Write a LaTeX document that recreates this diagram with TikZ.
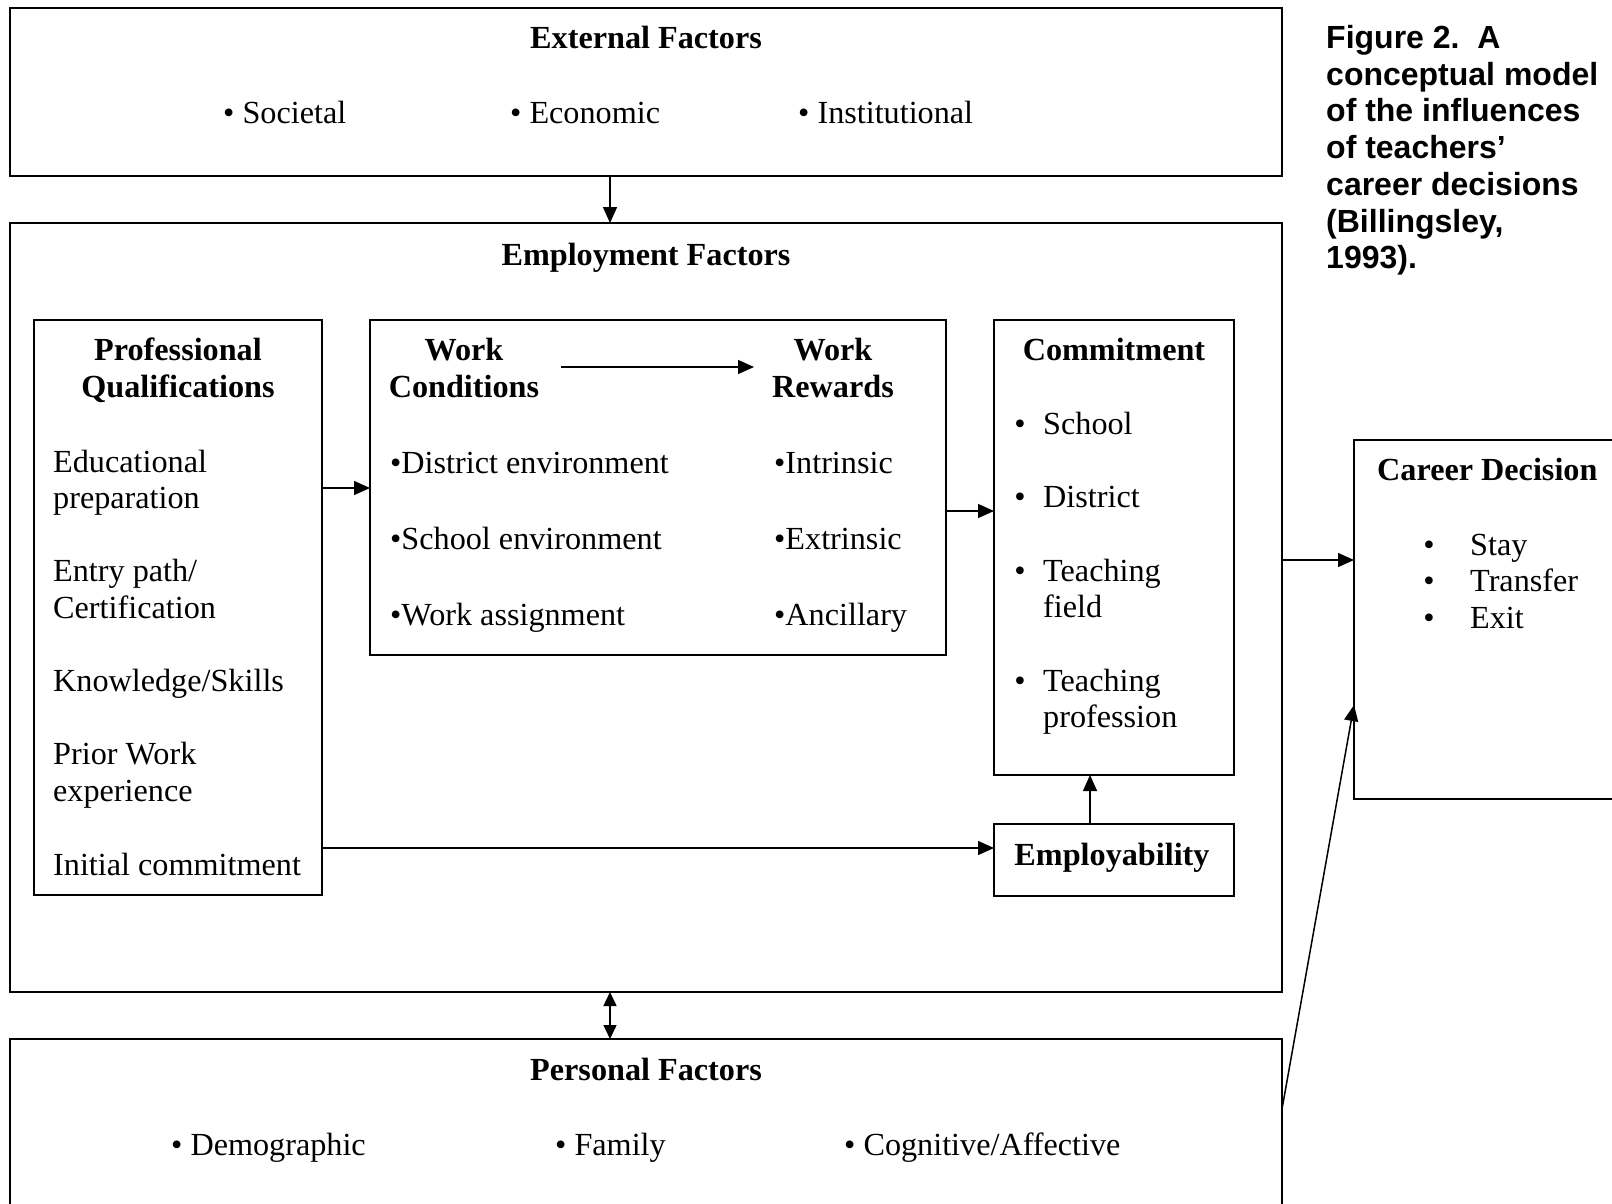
\documentclass[tikz,border=0pt]{standalone}
\usepackage{fontspec}
\setmainfont{Liberation Serif}
\newfontfamily\capfont{Liberation Sans}
\usetikzlibrary{arrows.meta,calc}
\begin{document}
\begin{tikzpicture}[x=1pt,y=-1pt,
  box/.style={draw, line width=2pt, inner sep=0pt, outer sep=0pt, anchor=north west},
  arr/.style={line width=1.5pt, -{Triangle[length=16pt,width=14pt]}},
  darr/.style={line width=1.5pt, {Triangle[length=14pt,width=13pt]}-{Triangle[length=14pt,width=13pt]}},
  tx/.style={inner sep=0pt, anchor=base west, font=\fontsize{32.2}{36.6}\selectfont},
  tc/.style={inner sep=0pt, anchor=base, font=\fontsize{32.2}{36.6}\selectfont},
  tb/.style={inner sep=0pt, anchor=base, font=\fontsize{32.2}{36.6}\selectfont\bfseries},
  tbw/.style={inner sep=0pt, anchor=base west, font=\fontsize{32.2}{36.6}\selectfont\bfseries},
  captxt/.style={inner sep=0pt, anchor=base west, font=\capfont\bfseries\fontsize{32}{36.7}\selectfont}
]
\useasboundingbox (0,0) rectangle (1612,1203);
\clip (0,0) rectangle (1612,1203);

% boxes
\node[box, minimum width=1272pt, minimum height=168pt] (ext) at (10,8) {};
\node[box, minimum width=1272pt, minimum height=769pt] (emp) at (10,223) {};
\node[box, minimum width=1272pt, minimum height=200pt] (pers) at (10,1039) {};
\node[box, minimum width=288pt, minimum height=575pt] (prof) at (34,320) {};
\node[box, minimum width=576pt, minimum height=335pt] (work) at (370,320) {};
\node[box, minimum width=240pt, minimum height=455pt] (comm) at (994,320) {};
\node[box, minimum width=240pt, minimum height=72pt] (empl) at (994,824) {};
\node[box, minimum width=280pt, minimum height=359pt] (career) at (1354,440) {};

% connectors
\coordinate (xa) at (610,0);
\coordinate (xb) at (1090,0);
\coordinate (ya) at (0,488);
\coordinate (yb) at (0,511);
\coordinate (yc) at (0,848);
\coordinate (yd) at (0,560);
\coordinate (wa) at (561,367);
\coordinate (wb) at (754,367);
\coordinate (pa) at ($(pers.north east)+(0,70)$);
\coordinate (cb) at ($(career.north west)+(0,265)$);
\draw[arr] (ext.south -| xa) -- (emp.north -| xa);
\draw[darr] (emp.south -| xa) -- (pers.north -| xa);
\draw[arr] (prof.east |- ya) -- (work.west |- ya);
\draw[arr] (work.east |- yb) -- (comm.west |- yb);
\draw[arr] (prof.east |- yc) -- (empl.west |- yc);
\draw[arr] (empl.north -| xb) -- (comm.south -| xb);
\draw[arr] (emp.east |- yd) -- (career.west |- yd);
\draw[arr] (wa) -- (wb);
\draw[arr] (pa) -- (cb);

% External
\node[tb] (extT) at (646,48) {External Factors};
\node[tx] (ext1) at (223,123) {• Societal};
\node[tx] (ext2) at (510,123) {• Economic};
\node[tx] (ext3) at (798,123) {• Institutional};

% Employment
\node[tb] (empT) at (646,265) {Employment Factors};

% Professional qualifications
\node[tb] (profT1) at (178,360) {Professional};
\node[tb] (profT2) at (178,397) {Qualifications};
\node[tx] (pq1) at (53,472) {Educational};
\node[tx] (pq2) at (53,508.6) {preparation};
\node[tx] (pq3) at (53,581.8) {Entry path/};
\node[tx] (pq4) at (53,618.4) {Certification};
\node[tx] (pq5) at (53,691.6) {Knowledge/Skills};
\node[tx] (pq6) at (53,764.8) {Prior Work};
\node[tx] (pq7) at (53,801.4) {experience};
\node[tx] (pq8) at (53,875) {Initial commitment};

% Work conditions / rewards
\node[tb] (wcT1) at (464,360) {Work};
\node[tb] (wcT2) at (464,397) {Conditions};
\node[tb] (wrT1) at (833,360) {Work};
\node[tb] (wrT2) at (833,397) {Rewards};
\node[tx] (wc1) at (390,473) {•District environment};
\node[tx] (wc2) at (390,549) {•School environment};
\node[tx] (wc3) at (390,625) {•Work assignment};
\node[tx] (wr1) at (774,473) {•Intrinsic};
\node[tx] (wr2) at (774,549) {•Extrinsic};
\node[tx] (wr3) at (774,625) {•Ancillary};

% Commitment
\node[tb] (comT) at (1114,360) {Commitment};
\node[tc] (cb1) at (1020,434) {•};
\node[tc] (cb2) at (1020,507) {•};
\node[tc] (cb3) at (1020,581) {•};
\node[tc] (cb4) at (1020,691) {•};
\node[tx] (ci1) at (1043,434) {School};
\node[tx] (ci2) at (1043,507) {District};
\node[tx] (ci3) at (1043,581) {Teaching};
\node[tx] (ci4) at (1043,617.6) {field};
\node[tx] (ci5) at (1043,691) {Teaching};
\node[tx] (ci6) at (1043,727.6) {profession};

% Employability
\node[tb] (emplT) at (1112,865) {Employability};

% Career decision
\node[tbw] (carT) at (1377,480) {Career Decision};
\node[tc] (kb1) at (1429,555) {•};
\node[tc] (kb2) at (1429,591) {•};
\node[tc] (kb3) at (1429,628) {•};
\node[tx] (k1) at (1470,555) {Stay};
\node[tx] (k2) at (1470,591) {Transfer};
\node[tx] (k3) at (1470,628) {Exit};

% Personal
\node[tb] (persT) at (646,1080) {Personal Factors};
\node[tx] (pf1) at (171,1155) {• Demographic};
\node[tx] (pf2) at (555,1155) {• Family};
\node[tx] (pf3) at (844,1155) {• Cognitive/Affective};

% Caption
\node[captxt] (cap1) at (1326,48.5) {Figure 2.\ \ A};
\node[captxt] (cap2) at (1326,85.2) {conceptual model};
\node[captxt] (cap3) at (1326,121.9) {of the influences};
\node[captxt] (cap4) at (1326,158.6) {of teachers’};
\node[captxt] (cap5) at (1326,195.3) {career decisions};
\node[captxt] (cap6) at (1326,232) {(Billingsley,};
\node[captxt] (cap7) at (1326,268.7) {1993).};
\end{tikzpicture}
\end{document}
